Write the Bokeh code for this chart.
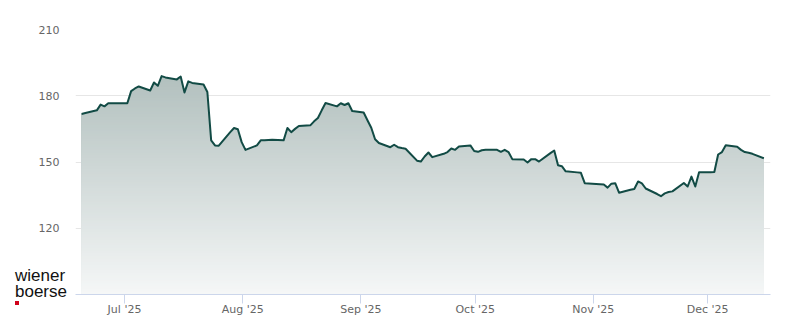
import numpy as np
import pandas as pd
from bokeh.plotting import figure
from bokeh.layouts import column
from bokeh.models import Range1d, FixedTicker, Div
from bokeh.embed import file_html
from bokeh.resources import INLINE

# ---------------- data ----------------
dates = [
    "2025-06-19", "2025-06-20", "2025-06-23", "2025-06-24", "2025-06-25", "2025-06-26", "2025-06-27",
    "2025-06-30", "2025-07-01", "2025-07-02", "2025-07-03", "2025-07-04",
    "2025-07-07", "2025-07-08", "2025-07-09", "2025-07-10", "2025-07-11",
    "2025-07-14", "2025-07-15", "2025-07-16", "2025-07-17", "2025-07-18",
    "2025-07-21", "2025-07-22", "2025-07-23", "2025-07-24", "2025-07-25",
    "2025-07-28", "2025-07-29", "2025-07-30", "2025-07-31", "2025-08-01",
    "2025-08-04", "2025-08-05", "2025-08-06", "2025-08-07", "2025-08-08",
    "2025-08-11", "2025-08-12", "2025-08-13", "2025-08-14", "2025-08-15",
    "2025-08-18", "2025-08-19", "2025-08-20", "2025-08-21", "2025-08-22",
    "2025-08-25", "2025-08-26", "2025-08-27", "2025-08-28", "2025-08-29",
    "2025-09-01", "2025-09-02", "2025-09-03", "2025-09-04", "2025-09-05",
    "2025-09-08", "2025-09-09", "2025-09-10", "2025-09-11", "2025-09-12",
    "2025-09-15", "2025-09-16", "2025-09-17", "2025-09-18", "2025-09-19",
    "2025-09-22", "2025-09-23", "2025-09-24", "2025-09-25", "2025-09-26",
    "2025-09-29", "2025-09-30", "2025-10-01", "2025-10-02", "2025-10-03",
    "2025-10-06", "2025-10-07", "2025-10-08", "2025-10-09", "2025-10-10",
    "2025-10-13", "2025-10-14", "2025-10-15", "2025-10-16", "2025-10-17",
    "2025-10-20", "2025-10-21", "2025-10-22", "2025-10-23", "2025-10-24",
    "2025-10-27", "2025-10-28", "2025-10-29", "2025-10-30", "2025-10-31",
    "2025-11-03", "2025-11-04", "2025-11-05", "2025-11-06", "2025-11-07",
    "2025-11-10", "2025-11-11", "2025-11-12", "2025-11-13", "2025-11-14",
    "2025-11-17", "2025-11-18", "2025-11-19", "2025-11-20", "2025-11-21",
    "2025-11-24", "2025-11-25", "2025-11-26", "2025-11-27", "2025-11-28",
    "2025-12-01", "2025-12-02", "2025-12-03", "2025-12-04", "2025-12-05",
    "2025-12-08", "2025-12-09", "2025-12-10", "2025-12-11", "2025-12-12",
    "2025-12-15",
]
prices = [
    171.7, 172.2, 173.4, 176.0, 175.2, 176.6, 176.6,
    176.6, 176.6, 182.1, 183.3, 184.2,
    182.4, 186.0, 184.5, 188.9, 188.3,
    187.4, 188.7, 181.5, 186.5, 185.8,
    185.1, 181.7, 159.8, 157.5, 157.4,
    163.5, 165.4, 164.8, 159.0, 155.5,
    157.5, 159.8, 159.9, 160.0, 160.1,
    159.8, 165.4, 163.5, 165.0, 166.3,
    166.6, 168.4, 169.9, 173.4, 176.7,
    175.2, 176.6, 175.8, 176.6, 173.1,
    172.4, 168.9, 165.5, 160.3, 158.6,
    156.7, 157.8, 156.7, 156.3, 156.0,
    150.6, 150.2, 152.5, 154.3, 152.2,
    153.7, 154.5, 156.1, 155.5, 157.0,
    157.5, 155.0, 154.6, 155.3, 155.5,
    155.5, 154.6, 155.5, 154.5, 151.3,
    151.1, 149.8, 151.3, 151.3, 150.2,
    154.0, 155.2, 148.5, 148.1, 145.8,
    145.3, 145.1, 140.4, 140.3, 140.2,
    139.8, 138.4, 140.2, 140.4, 136.1,
    137.4, 137.8, 141.2, 140.3, 138.0,
    135.5, 134.5, 135.8, 136.4, 136.7,
    140.5, 138.9, 143.4, 138.9, 145.4,
    145.4, 145.5, 153.4, 154.5, 157.6,
    156.9, 155.5, 154.5, 154.2, 153.7,
    151.7,
]
CLOSE_TIME = "17:35:00"   # quotes are stamped at the close of the trading day

month_ticks = ["2025-07-01", "2025-08-01", "2025-09-01", "2025-10-01", "2025-11-01", "2025-12-01"]
month_labels = ["Jul '25", "Aug '25", "Sep '25", "Oct '25", "Nov '25", "Dec '25"]
y_ticks = [120, 150, 180, 210]
Y_MIN, Y_MAX = 90, 210
logo_lines = ["wiener", "boerse"]

# ---------------- helpers ----------------
def to_ms(ts):
    return pd.DatetimeIndex(ts).values.astype("datetime64[ms]").astype("int64").astype(float)

x_ms = to_ms(pd.to_datetime(dates) + pd.Timedelta(CLOSE_TIME))
y = np.array(prices, dtype=float)
tick_ms = to_ms(pd.to_datetime(month_ticks))

DAY = 86400000.0
x_start = tick_ms[0] - 12.86 * DAY
x_end = tick_ms[0] + 169.47 * DAY

p = figure(width=800, height=324, output_backend="svg", toolbar_location=None,
           x_range=Range1d(x_start, x_end), y_range=Range1d(Y_MIN, Y_MAX),
           min_border_left=75, min_border_right=30, min_border_top=29, min_border_bottom=30,
           outline_line_color=None, background_fill_color="white", border_fill_color="white")

# gradient area built from stacked bands
top_rgb = np.array([178, 192, 190])
bot_rgb = np.array([245, 247, 247])
N = 80
ytop = y.max()
for k in range(N):
    level = ytop - k * (ytop - Y_MIN) / N
    t = (k + 0.5) / N
    c = top_rgb + (bot_rgb - top_rgb) * t
    col = "#%02x%02x%02x" % tuple(int(round(v)) for v in c)
    p.varea(x=x_ms, y1=Y_MIN, y2=np.minimum(y, level), fill_color=col, fill_alpha=1.0)

p.line(x_ms, y, line_color="#124b45", line_width=2, line_join="round")

# axes
xa = p.xaxis[0]
xa.ticker = FixedTicker(ticks=list(tick_ms))
xa.major_label_overrides = {float(t): lab for t, lab in zip(tick_ms, month_labels)}
xa.axis_line_color = "#ccd6eb"
xa.major_tick_line_color = "#ccd6eb"
xa.major_tick_out = 9
xa.major_tick_in = 0
xa.minor_tick_line_color = None
xa.minor_tick_out = 0
xa.major_label_standoff = -1
xa.major_label_text_font = "DejaVu Sans"
xa.major_label_text_font_size = "11px"
xa.major_label_text_color = "#666666"

ya = p.yaxis[0]
ya.ticker = FixedTicker(ticks=y_ticks)
ya.axis_line_color = None
ya.major_tick_line_color = None
ya.minor_tick_line_color = None
ya.major_tick_out = 0
ya.major_tick_in = 0
ya.minor_tick_out = 0
ya.major_label_standoff = 16
ya.major_label_text_font = "DejaVu Sans"
ya.major_label_text_font_size = "11px"
ya.major_label_text_color = "#666666"

p.xgrid.grid_line_color = None
p.ygrid.grid_line_color = "#e6e6e6"
p.ygrid.grid_line_width = 1

# logo, laid over the bottom-left corner of the chart
logo_html = ("<div>" + "<br>".join(logo_lines) + "</div>"
             "<div style='width:4px;height:4px;background:#d0021b;margin-top:1px'></div>")
logo = Div(text=logo_html, width=62, height=40, margin=(-56, 0, 0, 15),
           styles={"font-family": "'Liberation Sans', Arial, sans-serif",
                   "font-size": "17px", "line-height": "16px", "color": "#111111",
                   "padding": "0px"})

layout = column(p, logo, spacing=0)
open("out.html", "w").write(file_html(layout, INLINE))
